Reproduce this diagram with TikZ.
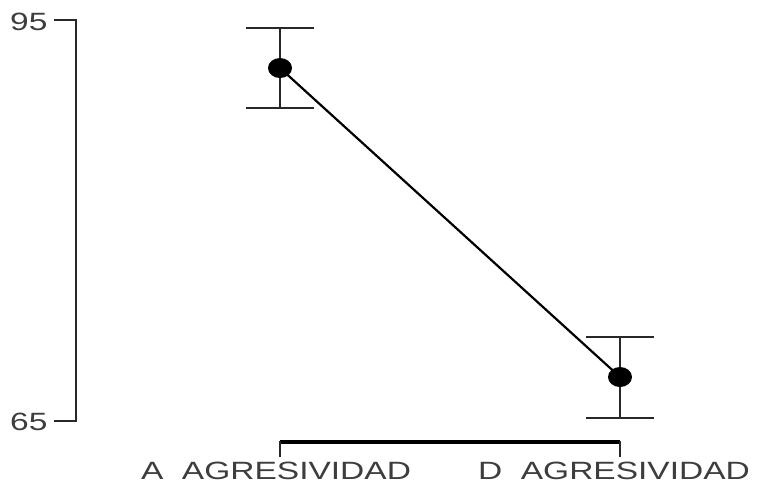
\documentclass[tikz,border=0pt]{standalone}
\usepackage{fontspec}
\setmainfont{Liberation Sans}
\usetikzlibrary{shapes.geometric}
\definecolor{ink}{RGB}{40, 40, 40}

\begin{document}
\begin{tikzpicture}[x=0.5pt, y=-0.5pt,
  lbl/.style={font=\fontsize{12.5}{15}\selectfont, text=ink!90, xscale=1.34, inner sep=0},
  dot/.style={ellipse, fill=black, inner sep=0, minimum width=12pt, minimum height=10pt}]
  \useasboundingbox (0, 0) rectangle (761, 484);

  % y axis
  \draw[ink, line width=0.9pt] (54, 20) -- (76, 20) -- (76, 421) -- (54, 421);
  \node[lbl, anchor=east] (ytop) at (48, 22) {95};
  \node[lbl, anchor=east] (ybot) at (48, 422) {65};

  % x axis
  \draw[black, line width=2pt] (280, 442) -- (620, 442);
  \draw[ink, line width=0.9pt] (280, 441) -- (280, 457) (620, 441) -- (620, 457);
  \node[lbl] (lblA) at (276, 471) {A\ \ AGRESIVIDAD};
  \node[lbl] (lblD) at (614, 471) {D\ \ AGRESIVIDAD};

  % error bars
  \foreach \x/\lo/\hi in {280/108/28, 620/418/337} {
    \draw[ink, line width=1pt] (\x, \hi) -- (\x, \lo);
    \draw[ink, line width=1pt] (\x - 34, \hi) -- +(68, 0);
    \draw[ink, line width=1pt] (\x - 34, \lo) -- +(68, 0);
  }

  % means
  \node[dot] (ptA) at (280, 68) {};
  \node[dot] (ptD) at (620, 377) {};
  \draw[black, line width=1.1pt] (ptA.center) -- (ptD.center);

\end{tikzpicture}
\end{document}
